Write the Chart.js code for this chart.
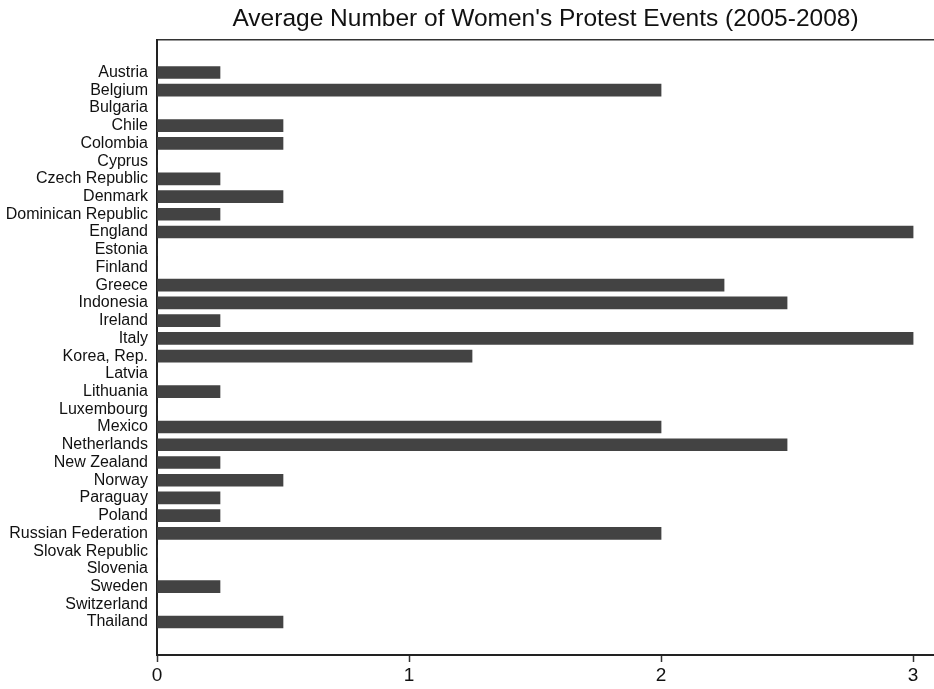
<!DOCTYPE html>
<html>
<head>
<meta charset="utf-8">
<script src="https://cdn.jsdelivr.net/npm/chart.js@4"></script>
<style>
  html, body { margin: 0; padding: 0; background: #fff; }
  #wrap { width: 934px; height: 689px; }
</style>
</head>
<body>
<div id="wrap"><canvas id="grafico"></canvas></div>
<script>
const countries = [
  "Austria", "Belgium", "Bulgaria", "Chile", "Colombia", "Cyprus",
  "Czech Republic", "Denmark", "Dominican Republic", "England", "Estonia",
  "Finland", "Greece", "Indonesia", "Ireland", "Italy", "Korea, Rep.",
  "Latvia", "Lithuania", "Luxembourg", "Mexico", "Netherlands",
  "New Zealand", "Norway", "Paraguay", "Poland", "Russian Federation",
  "Slovak Republic", "Slovenia", "Sweden", "Switzerland", "Thailand"
];
const avgEvents = [
  0.25, 2, 0, 0.5, 0.5, 0,
  0.25, 0.5, 0.25, 3, 0,
  0, 2.25, 2.5, 0.25, 3, 1.25,
  0, 0.25, 0, 2, 2.5,
  0.25, 0.5, 0.25, 0.25, 2,
  0, 0, 0.25, 0, 0.5
];
const xTicks = [0, 1, 2, 3];

const FONT = "'Liberation Sans', Arial, Helvetica, sans-serif";

// puntos {x, y} para usar un eje y lineal (deja margen arriba y abajo)
const puntos = avgEvents.map((v, i) => ({ x: v, y: i }));

new Chart(document.getElementById("grafico").getContext("2d"), {
  type: "bar",
  data: {
    datasets: [{
      data: puntos,
      backgroundColor: "#434343",
      borderWidth: 0,
      barThickness: 12
    }]
  },
  options: {
    indexAxis: "y",
    responsive: true,
    maintainAspectRatio: false,
    animation: false,
    layout: { padding: { left: 0, right: 0, top: 0, bottom: 0 } },
    plugins: {
      legend: { display: false },
      tooltip: { enabled: false },
      title: {
        display: true,
        fullSize: false,
        text: "Average Number of Women's Protest Events (2005-2008)",
        color: "#111",
        font: { family: FONT, size: 24.5, weight: "normal" },
        padding: { top: 4.3, bottom: 5.8 }
      }
    },
    scales: {
      x: {
        type: "linear",
        position: "bottom",
        min: 0,
        max: 3.083,
        afterBuildTicks: s => { s.ticks = xTicks.map(v => ({ value: v })); },
        ticks: {
          color: "#111",
          font: { family: FONT, size: 19, lineHeight: 1 },
          padding: 4,
          maxRotation: 0
        },
        grid: {
          display: true,
          drawOnChartArea: false,
          drawTicks: true,
          tickLength: 7,
          tickWidth: 1.5,
          tickColor: "#333"
        },
        border: { display: true, color: "#222", width: 2 }
      },
      xTop: {
        type: "linear",
        position: "top",
        min: 0,
        max: 1,
        ticks: { display: false },
        grid: { display: false, drawTicks: false },
        border: { display: true, color: "#333", width: 1.5 }
      },
      y: {
        type: "linear",
        reverse: true,
        offset: false,
        min: -1.86,
        max: 32.86,
        afterBuildTicks: s => { s.ticks = countries.map((c, i) => ({ value: i })); },
        afterFit: s => { s.width = 157; },
        ticks: {
          callback: v => countries[v],
          color: "#111",
          font: { family: FONT, size: 16 },
          padding: 9,
          autoSkip: false
        },
        grid: { display: false, drawTicks: false, offset: false },
        border: { display: true, color: "#222", width: 2 }
      }
    }
  }
});
</script>
</body>
</html>
